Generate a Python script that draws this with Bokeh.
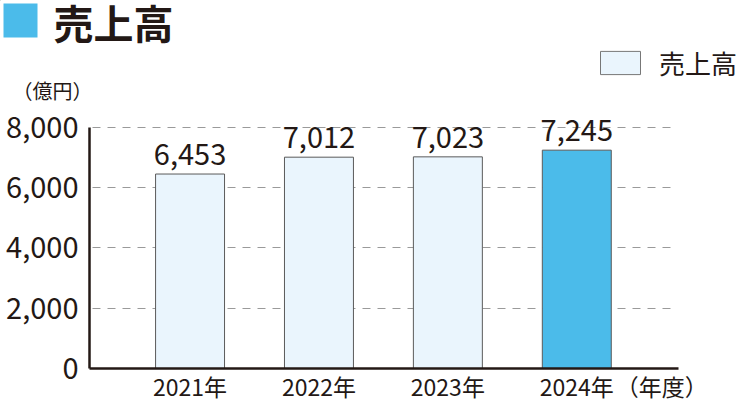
from bokeh.plotting import figure
from bokeh.layouts import column
from bokeh.models import (ColumnDataSource, Range1d, FixedTicker, NumeralTickFormatter,
                          LabelSet, Label, Legend, LegendItem, BoxAnnotation)
from bokeh.core.properties import value
from bokeh.embed import file_html
from bokeh.resources import INLINE

# ---- data ----
years = ["2021年", "2022年", "2023年", "2024年"]
sales = [6453, 7012, 7023, 7245]
sales_text = ["6,453", "7,012", "7,023", "7,245"]
bar_colors = ["#EAF5FD", "#EAF5FD", "#EAF5FD", "#4BBBEA"]
y_ticks = [0, 2000, 4000, 6000, 8000]
title_text = "売上高"
legend_text = "売上高"
unit_text = "（億円）"
xunit_text = "（年度）"

INK = "#231815"
JP = "Noto Sans CJK JP"
LIGHT = "#EAF5FD"
BLUE = "#4BBBEA"
EDGE = "#5a5a5a"

# ---------------- header (title, legend, unit) ----------------
h = figure(width=740, height=105, x_range=Range1d(0, 740), y_range=Range1d(105, 0),
           x_axis_type=None, y_axis_type=None, min_border=0,
           output_backend="svg", toolbar_location=None, tools="")
h.frame_align = False
h.outline_line_color = None
h.xgrid.grid_line_color = None
h.ygrid.grid_line_color = None
h.add_layout(BoxAnnotation(left=3, right=37, top=3, bottom=37, fill_color=BLUE,
                           fill_alpha=1, line_color=None))
h.add_layout(Label(x=53, y=21, text=title_text, text_font=JP, text_font_size="40px",
                   text_font_style="bold", text_color=INK, text_baseline="middle",
                   text_align="left"))
h.add_layout(Label(x=52, y=90, text=unit_text, text_font=JP, text_font_size="20px",
                   text_color=INK, text_baseline="middle", text_align="center"))
# legend key: a swatch renderer kept outside the visible header area
key_src = ColumnDataSource(dict(x=[-100], top=[-100], bottom=[-120]))
key = h.vbar(x="x", top="top", bottom="bottom", width=10, source=key_src,
             fill_color=LIGHT, line_color="#777777", line_width=1)
legend = Legend(items=[LegendItem(label=legend_text, renderers=[key], index=0)],
                location=(595, 24), orientation="horizontal",
                glyph_width=50, glyph_height=29, label_height=23, label_standoff=14,
                label_text_font=JP, label_text_font_size="26px", label_text_color=INK,
                label_text_baseline="middle",
                border_line_color=None, background_fill_alpha=0, padding=0, margin=0)
h.add_layout(legend, "center")

# ---------------- main chart ----------------
idx = list(range(len(years)))
x_ticks = idx + [3.66]
x_labels = years + [xunit_text]
src = ColumnDataSource(dict(x=idx, top=sales, label=sales_text, color=bar_colors))

p = figure(width=740, height=300,
           min_border_left=89, min_border_right=0, min_border_top=0, min_border_bottom=36,
           x_range=Range1d(-0.78, 4.27), y_range=Range1d(0, 8727),
           output_backend="svg", toolbar_location=None, tools="")
p.frame_align = False
p.outline_line_color = None
p.background_fill_color = "white"
p.border_fill_color = "white"

bars = p.vbar(x="x", top="top", width=0.535, source=src, fill_color="color",
              line_color=EDGE, line_width=1)

# y axis
ya = p.yaxis[0]
ya.ticker = FixedTicker(ticks=y_ticks)
ya.formatter = NumeralTickFormatter(format="0,0")
ya.bounds = (0, 8000)
ya.axis_line_color = INK
ya.axis_line_width = 2.5
ya.major_tick_line_color = None
ya.minor_tick_line_color = None
ya.major_tick_out = 0
ya.major_tick_in = 0
ya.minor_tick_out = 0
ya.major_label_standoff = 11
ya.major_label_text_font = JP
ya.major_label_text_font_size = "29px"
ya.major_label_text_color = INK

# x axis
xa = p.xaxis[0]
xa.ticker = FixedTicker(ticks=x_ticks)
xa.major_label_overrides = {t: s for t, s in zip(x_ticks, x_labels)}
xa.bounds = (-0.78, 3.79)
xa.axis_line_color = INK
xa.axis_line_width = 2.5
xa.major_tick_line_color = None
xa.minor_tick_line_color = None
xa.major_tick_out = 0
xa.major_tick_in = 0
xa.minor_tick_out = 0
xa.major_label_standoff = 0
xa.major_label_text_font = JP
xa.major_label_text_font_size = "23px"
xa.major_label_text_color = INK

p.xgrid.grid_line_color = None
p.ygrid.ticker = FixedTicker(ticks=y_ticks)
p.ygrid.cross_bounds = (-0.76, 3.73)
p.ygrid.grid_line_color = "#9a9a9a"
p.ygrid.grid_line_dash = "8 7"
p.ygrid.grid_line_width = 1

# value labels
p.add_layout(LabelSet(x="x", y="top", text="label", source=src, text_align="center",
                      text_baseline="alphabetic", y_offset=9, text_font=value(JP),
                      text_font_size="29px", text_color=INK))

layout = column(h, p, spacing=0)
open("out.html", "w").write(file_html(layout, INLINE))
